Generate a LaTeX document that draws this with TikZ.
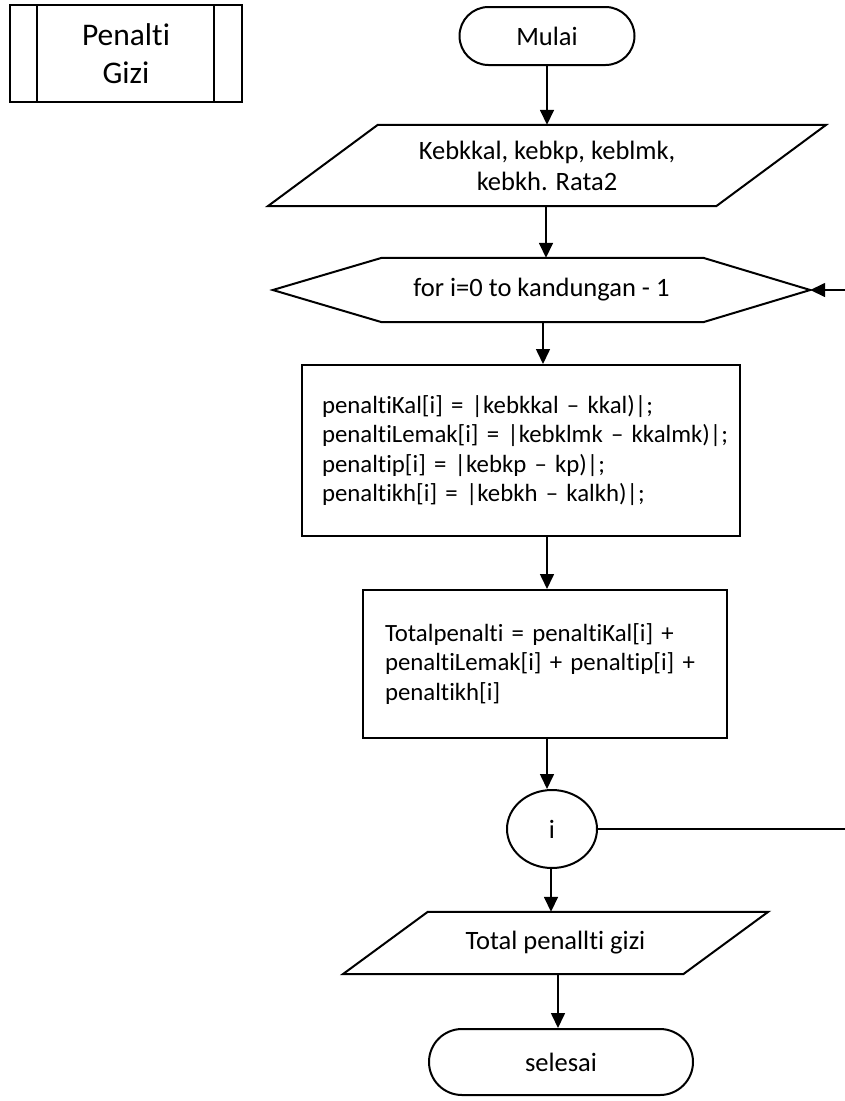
\documentclass[tikz,border=0pt]{standalone}
\usepackage{fontspec}
\setmainfont{Carlito}[Ligatures=NoCommon]
\usetikzlibrary{arrows.meta,shapes.misc,shapes.geometric}

\begin{document}
\begin{tikzpicture}[x=1pt,y=-1pt,
  shapeline/.style={line width=2pt,draw=black},
  conn/.style={line width=1.6pt,-{Triangle[length=15pt,width=14pt]}},
  body/.style={font=\fontsize{26.5}{31}\selectfont},
  boxtext/.style={font=\fontsize{24.8}{29.5}\selectfont},
  terminal/.style={shapeline,rounded rectangle,body,inner sep=0pt},
  process/.style={shapeline,rectangle,boxtext,align=left,inner ysep=0pt},
  textonly/.style={rectangle,body,align=center,inner sep=0pt},
  connector/.style={shapeline,ellipse,body,inner sep=0pt,minimum width=90pt,minimum height=78pt}
]
\useasboundingbox (0,0) rectangle (845,1101);

% predefined process box
\node[shapeline,rectangle,minimum width=232pt,minimum height=97pt,inner sep=0pt,
      align=center,font=\fontsize{31.5}{38}\selectfont]
  (sub) at (126,53.5) {Penalti\\Gizi};
\draw[shapeline] ([xshift=28pt]sub.north west) -- ([xshift=28pt]sub.south west);
\draw[shapeline] ([xshift=-29pt]sub.north east) -- ([xshift=-29pt]sub.south east);

% start
\node[terminal,minimum width=175pt,minimum height=58pt] (start) at (547,36) {Mulai};

% input parallelogram
\node[textonly,minimum width=558pt,minimum height=81pt] (in) at (547,165.5)
  {Kebkkal, kebkp, keblmk,\\kebkh. Rata2};
\draw[shapeline] ([xshift=110pt]in.north west) -- (in.north east)
  -- ([xshift=-110pt]in.south east) -- (in.south west) -- cycle;

% loop header hexagon
\node[textonly,minimum width=537pt,minimum height=64pt] (loop) at (541.5,290)
  {for i=0 to kandungan - 1};
\draw[shapeline] (loop.west) -- ([xshift=109pt]loop.north west)
  -- ([xshift=-107pt]loop.north east) -- (loop.east)
  -- ([xshift=-107pt]loop.south east) -- ([xshift=109pt]loop.south west) -- cycle;

% penalty per nutrient
\node[process,minimum width=438pt,minimum height=171pt,text width=398pt,inner xsep=20pt]
  (calc) at (521,450.5)
  {\mbox{penaltiKal[i] = |kebkkal – kkal)|;}\\
   \mbox{penaltiLemak[i] = |kebklmk – kkalmk)|;}\\
   \mbox{penaltip[i] = |kebkp – kp)|;}\\
   \mbox{penaltikh[i] = |kebkh – kalkh)|;}};

% total penalty
\node[process,minimum width=364pt,minimum height=148pt,text width=320pt,inner xsep=22pt]
  (total) at (545,664)
  {\mbox{Totalpenalti = penaltiKal[i] +}\\
   \mbox{penaltiLemak[i] + penaltip[i] +}\\
   \mbox{penaltikh[i]}};

% loop connector
\node[connector] (iter) at (552,829) {i};

% output parallelogram
\node[textonly,minimum width=425pt,minimum height=62pt] (out) at (555.5,943)
  {Total penallti gizi};
\draw[shapeline] ([xshift=85pt]out.north west) -- (out.north east)
  -- ([xshift=-85pt]out.south east) -- (out.south west) -- cycle;

% end
\node[terminal,minimum width=264pt,minimum height=66pt] (stop) at (561,1062) {selesai};

% flow
\draw[conn] (start.south) -- (start.south |- in.north);
\draw[conn] ([xshift=-1pt]in.south) -- ([xshift=-1pt]in.south |- loop.north);
\draw[conn] ([xshift=1.5pt]loop.south) -- ([xshift=1.5pt]loop.south |- calc.north);
\draw[conn] ([xshift=26pt]calc.south) -- ([xshift=26pt]calc.south |- total.north);
\draw[conn] ([xshift=2pt]total.south) -- ([xshift=2pt]total.south |- iter.north);
\draw[conn] ([xshift=-1pt]iter.south) -- ([xshift=-1pt]iter.south |- out.north);
\draw[conn] ([xshift=2.5pt]out.south) -- ([xshift=2.5pt]out.south |- stop.north);

% loop back to the header
\coordinate (backR) at (880,829);
\draw[conn] (iter.east) -- (backR) -- (backR |- loop.east) -- (loop.east);
\end{tikzpicture}
\end{document}
